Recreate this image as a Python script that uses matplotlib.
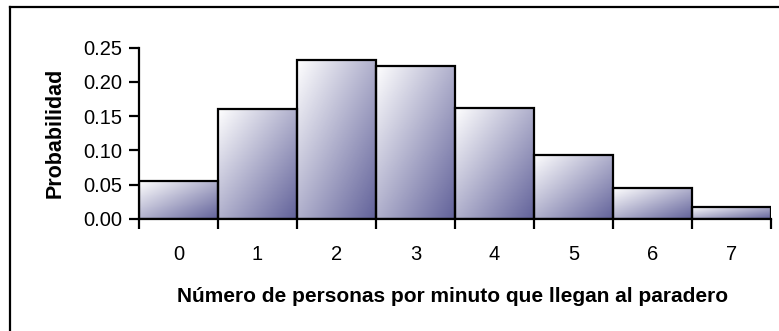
import matplotlib.pyplot as plt
import numpy as np
from matplotlib.colors import LinearSegmentedColormap
from matplotlib.lines import Line2D

plt.rcParams['font.family'] = ['Liberation Sans', 'DejaVu Sans']

# personas que llegan por minuto y su probabilidad
personas = [0, 1, 2, 3, 4, 5, 6, 7]
probabilidad = [0.055, 0.160, 0.232, 0.224, 0.162, 0.094, 0.045, 0.018]
yticks = [0.00, 0.05, 0.10, 0.15, 0.20, 0.25]

W, H = 779, 331
fig = plt.figure(figsize=(W / 100, H / 100), dpi=100)
ax = fig.add_axes([139 / W, (H - 219) / H, (771 - 139) / W, (219 - 47.7) / H])

# degradado diagonal: blanco arriba-izquierda, azul grisaceo abajo-derecha
cmap = LinearSegmentedColormap.from_list('barra', ['#ffffff', '#62629a'])
n = 200
u = np.linspace(0, 1, n)
uu, vv = np.meshgrid(u, u)
grad = (uu + vv) / 2

for x, p in zip(personas, probabilidad):
    rect = ax.bar(x, p, width=1.0, facecolor='none', edgecolor='black',
                  linewidth=1.6, zorder=3)[0]
    im = ax.imshow(grad, cmap=cmap, vmin=0, vmax=1, origin='upper',
                   extent=[x - 0.5, x + 0.5, 0, p], aspect='auto',
                   interpolation='bilinear', zorder=2)
    im.set_clip_path(rect)

ax.set_xlim(-0.5, 7.5)
ax.set_ylim(0, 0.25)

for s in ['top', 'right']:
    ax.spines[s].set_visible(False)
for s in ['left', 'bottom']:
    ax.spines[s].set_linewidth(1.6)
    ax.spines[s].set_zorder(4)

ax.set_yticks(yticks)
ax.set_yticklabels([f'{v:.2f}' for v in yticks])
ax.tick_params(axis='y', length=7, width=1.6, pad=5, labelsize=14.5)

# marcas en los bordes de las barras, etiquetas al centro
ax.set_xticks(np.arange(-0.5, 8, 1.0))
ax.set_xticklabels([])
ax.tick_params(axis='x', which='major', length=7, width=1.6)
ax.set_xticks(personas, minor=True)
ax.set_xticklabels([str(v) for v in personas], minor=True)
ax.tick_params(axis='x', which='minor', length=0, pad=19, labelsize=14.5)

fig.text(55 / W, 1 - 132.5 / H, 'Probabilidad', rotation=90, ha='center',
         va='center', fontsize=15.5, fontweight='bold')
fig.text(453 / W, 1 - 296 / H,
         'Número de personas por minuto que llegan al paradero',
         ha='center', va='center', fontsize=15, fontweight='bold')

# marco exterior
fig.add_artist(Line2D([9.5 / W, 1], [1 - 6.5 / H, 1 - 6.5 / H],
                      color='black', linewidth=1.6, transform=fig.transFigure))
fig.add_artist(Line2D([9.5 / W, 9.5 / W], [0, 1 - 6.5 / H],
                      color='black', linewidth=1.6, transform=fig.transFigure))

fig.savefig('out.png', dpi=100)
